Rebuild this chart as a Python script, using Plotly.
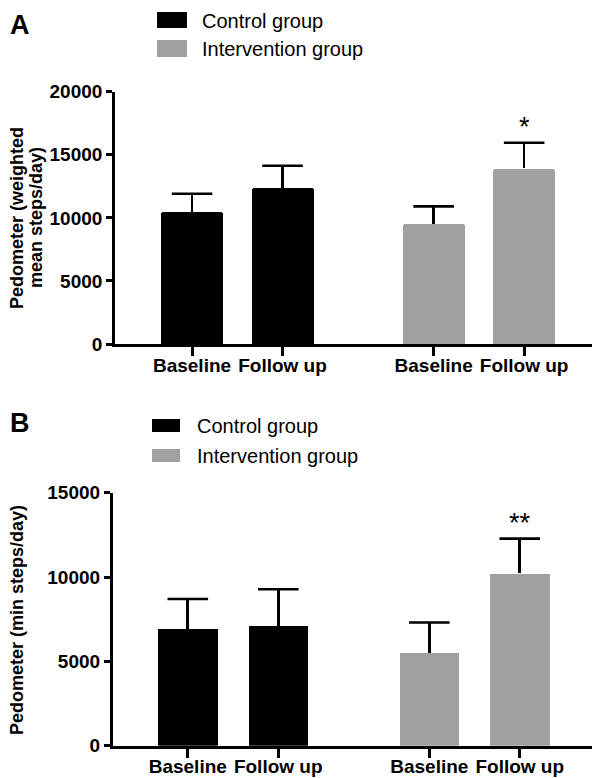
import plotly.graph_objects as go

W, H = 600, 778
PAGE_OFFSET = 8  # default body margin of the written page

# ---------------- data ----------------
categories = ["Baseline", "Follow up"]
group_names = ["Control group", "Intervention group"]
group_colors = ["#000000", "#a0a0a0"]

# Panel A: weighted mean steps/day
weighted_control = [10480, 12390]
weighted_control_err = [1430, 1740]
weighted_intervention = [9510, 13920]
weighted_intervention_err = [1400, 2030]
weighted_sig = ["", "*"]

# Panel B: min steps/day
min_control = [6940, 7120]
min_control_err = [1760, 2160]
min_intervention = [5500, 10220]
min_intervention_err = [1800, 2060]
min_sig = ["", "**"]

panel_labels = ["A", "B"]
ytitle_a_lines = ["Pedometer (weighted", "mean steps/day)"]
ytitle_b = "Pedometer (min steps/day)"
y_ticks_a = [0, 5000, 10000, 15000, 20000]
y_ticks_b = [0, 5000, 10000, 15000]

FONT = "Liberation Sans, Arial, sans-serif"


def px_x(p):
    return (p - PAGE_OFFSET) / W


def px_y(p):
    return 1 - (p - PAGE_OFFSET) / H


GROUP_GAP = 2.67  # position offset of the second group (layout)


def positions(g):
    return [g * GROUP_GAP + i for i in range(len(categories))]


fig = go.Figure()

panels = [
    dict(vals=[weighted_control, weighted_intervention],
         errs=[weighted_control_err, weighted_intervention_err],
         sig=weighted_sig, xa="x", ya="y", width=0.685, radius=3),
    dict(vals=[min_control, min_intervention],
         errs=[min_control_err, min_intervention_err],
         sig=min_sig, xa="x2", ya="y2", width=0.657, radius=0),
]

for p in panels:
    for g in range(2):
        xs = positions(g)
        vals = p["vals"][g]
        errs = p["errs"][g]
        fig.add_trace(go.Bar(
            x=xs, y=vals, name=group_names[g],
            marker=dict(color=group_colors[g], line=dict(width=0),
                        cornerradius=p["radius"]),
            width=p["width"],
            error_y=dict(type="data", symmetric=False, array=errs,
                         arrayminus=[0] * len(vals), color="#000000",
                         thickness=2.6, width=0),
            xaxis=p["xa"], yaxis=p["ya"], showlegend=False,
        ))
        # error-bar caps (upper only)
        fig.add_trace(go.Scatter(
            x=xs, y=[v + e for v, e in zip(vals, errs)], mode="markers",
            marker=dict(symbol="line-ew", size=29,
                        line=dict(width=2.6, color="#000000")),
            xaxis=p["xa"], yaxis=p["ya"], showlegend=False, hoverinfo="skip",
        ))
    # significance markers above intervention bars
    for i, s in enumerate(p["sig"]):
        if s:
            fig.add_annotation(
                x=positions(1)[i], y=p["vals"][1][i] + p["errs"][1][i],
                xref=p["xa"], yref=p["ya"], text=s, showarrow=False,
                yanchor="middle", yshift=16,
                font=dict(family=FONT, size=27, color="#000000"))

tickfont = dict(family=FONT, size=19, color="#000000", weight="bold")
tickvals_x = positions(0) + positions(1)
ticktext_x = categories * 2

common_x = dict(showline=True, linecolor="#000000", linewidth=2.6,
                ticks="outside", ticklen=9, tickwidth=2.6, tickcolor="#000000",
                tickvals=tickvals_x, ticktext=ticktext_x, showgrid=False,
                zeroline=False, tickfont=tickfont, ticklabelstandoff=-7,
                automargin=False)
common_y = dict(showline=True, linecolor="#000000", linewidth=2.6,
                ticks="outside", ticklen=6, tickwidth=2.6, tickcolor="#000000",
                showgrid=False, zeroline=False, tickfont=tickfont,
                tickformat="d", automargin=False)

fig.update_layout(
    width=W, height=H,
    margin=dict(l=0, r=0, t=0, b=0, pad=0, autoexpand=False),
    paper_bgcolor="white", plot_bgcolor="white",
    bargap=0, barmode="overlay",
    xaxis=dict(domain=[px_x(115), px_x(598)], range=[-0.851, 4.486],
               anchor="y", **common_x),
    yaxis=dict(domain=[px_y(344), px_y(91.7)], range=[0, 20000],
               tickvals=y_ticks_a, anchor="x", **common_y),
    xaxis2=dict(domain=[px_x(112.7), px_x(598)], range=[-0.83, 4.535],
                anchor="y2", **common_x),
    yaxis2=dict(domain=[px_y(745.7), px_y(492.7)], range=[0, 15000],
                tickvals=y_ticks_b, anchor="x2", **common_y),
)

# panel letters
fig.add_annotation(x=px_x(8), y=px_y(8), xref="paper", yref="paper",
                   text="<b>%s</b>" % panel_labels[0], showarrow=False,
                   xanchor="left", yanchor="top",
                   font=dict(family=FONT, size=27, color="#000000"))
fig.add_annotation(x=px_x(8), y=px_y(423), xref="paper", yref="paper",
                   text="<b>%s</b>" % panel_labels[1], showarrow=False,
                   xanchor="left", yanchor="middle",
                   font=dict(family=FONT, size=27, color="#000000"))

# legends (drawn swatches + text)
legend_specs = [
    dict(sx0=157, sx1=187, rows=[(12, 28), (40, 57)], tx=200, ty=[21, 49], size=20),
    dict(sx0=152, sx1=180, rows=[(419, 432), (449, 462)], tx=195, ty=[426, 456], size=20),
]
for spec in legend_specs:
    for g in range(2):
        y0, y1 = spec["rows"][g]
        fig.add_shape(type="rect", xref="paper", yref="paper",
                      x0=px_x(spec["sx0"]), x1=px_x(spec["sx1"]),
                      y0=px_y(y1), y1=px_y(y0),
                      fillcolor=group_colors[g], line=dict(width=0))
        fig.add_annotation(x=px_x(spec["tx"]), y=px_y(spec["ty"][g]),
                           xref="paper", yref="paper", text=group_names[g],
                           showarrow=False, xanchor="left", yanchor="middle",
                           font=dict(family=FONT, size=spec["size"], color="#000000"))

# y-axis titles (panel A on two lines, placed individually)
for line, xc in zip(ytitle_a_lines, [17, 36]):
    fig.add_annotation(x=px_x(xc), y=px_y(218), xref="paper", yref="paper",
                       text="<b>%s</b>" % line, showarrow=False, textangle=-90,
                       xanchor="center", yanchor="middle",
                       font=dict(family=FONT, size=18, color="#000000"))
fig.add_annotation(x=px_x(17), y=px_y(620), xref="paper", yref="paper",
                   text="<b>%s</b>" % ytitle_b, showarrow=False, textangle=-90,
                   xanchor="center", yanchor="middle",
                   font=dict(family=FONT, size=18, color="#000000"))

fig.write_html("out.html")
